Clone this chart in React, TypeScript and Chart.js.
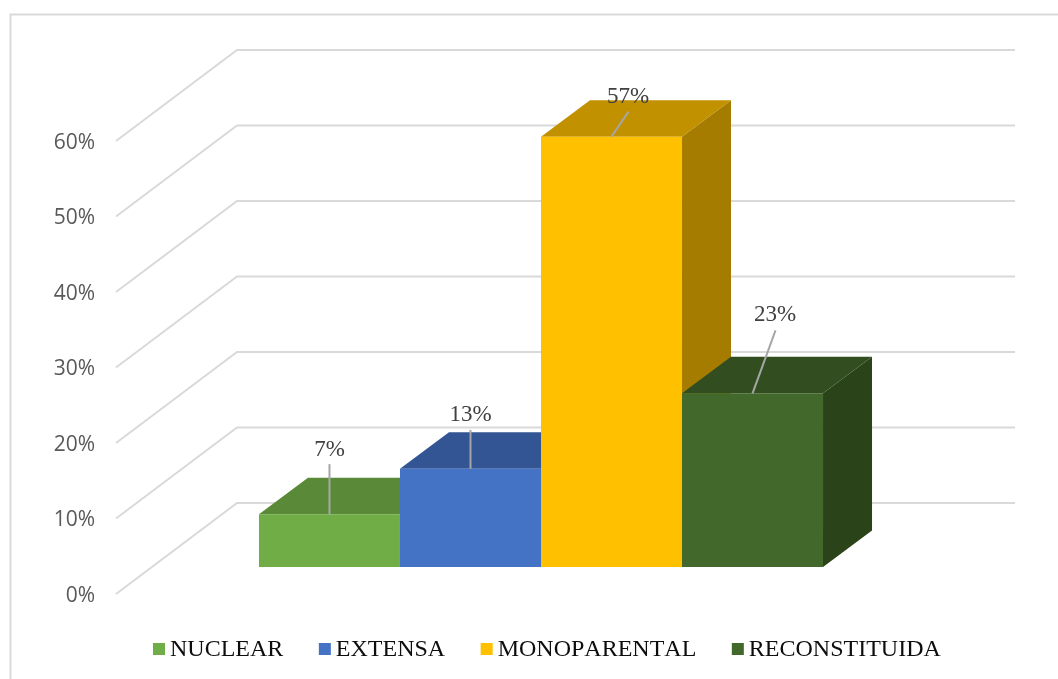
import React, { useEffect, useRef } from "react";
import { Chart, registerables } from "chart.js";

Chart.register(...registerables);

const categories = ["FAMILIA"];
const seriesNames = ["NUCLEAR", "EXTENSA", "MONOPARENTAL", "RECONSTITUIDA"];
const seriesValues = [7, 13, 57, 23];
const frontColors = ["#70AD47", "#4472C4", "#FFC000", "#43682B"];
const topColors = ["#5A8A38", "#335593", "#C19100", "#324E20"];
const sideColors = ["#4C7531", "#2C4A80", "#A67C00", "#2B4319"];
const leaderEnds = [
  [0, -50],
  [0, -39],
  [17, -25],
  [23, -63],
];
const labelShifts = [
  [0, -58],
  [0, -48],
  [16.5, -34],
  [22.5, -72],
];

const BAR_DEPTH = { x: 49, y: -36.5 };
const WALL_DEPTH = { x: 85, y: -64 };
const FLOOR_FRONT = { x: -36, y: 27 };
const GRID_COLOR = "#D9D9D9";
const SERIF = '"Liberation Serif"';

const chart3d = {
  id: "chart3d",
  beforeDatasetsDraw(chart: any) {
    const { ctx, chartArea, scales } = chart;
    const y = scales.y;
    ctx.save();
    // Chart frame: only its top and left edges fall inside the picture
    ctx.strokeStyle = GRID_COLOR;
    ctx.lineWidth = 2;
    ctx.strokeRect(10.5, 14.5, 1100, 700);
    // Wall + floor gridlines
    ctx.lineWidth = 2;
    y.ticks.forEach((t: any) => {
      const py = y.getPixelForValue(t.value);
      ctx.beginPath();
      ctx.moveTo(chartArea.left + FLOOR_FRONT.x, py + FLOOR_FRONT.y);
      ctx.lineTo(chartArea.left + WALL_DEPTH.x, py + WALL_DEPTH.y);
      ctx.lineTo(chartArea.right + WALL_DEPTH.x, py + WALL_DEPTH.y);
      ctx.stroke();
    });
    // Top and side faces, left to right
    chart.data.datasets.forEach((_: any, i: number) => {
      const el = chart.getDatasetMeta(i).data[0];
      const l = el.x - el.width / 2;
      const r = el.x + el.width / 2;
      const t = el.y;
      const b = el.base;
      ctx.fillStyle = sideColors[i];
      ctx.beginPath();
      ctx.moveTo(r, t);
      ctx.lineTo(r + BAR_DEPTH.x, t + BAR_DEPTH.y);
      ctx.lineTo(r + BAR_DEPTH.x, b + BAR_DEPTH.y);
      ctx.lineTo(r, b);
      ctx.closePath();
      ctx.fill();
      ctx.fillStyle = topColors[i];
      ctx.beginPath();
      ctx.moveTo(l, t);
      ctx.lineTo(l + BAR_DEPTH.x, t + BAR_DEPTH.y);
      ctx.lineTo(r + BAR_DEPTH.x, t + BAR_DEPTH.y);
      ctx.lineTo(r, t);
      ctx.closePath();
      ctx.fill();
    });
    ctx.restore();
  },
  afterDatasetsDraw(chart: any) {
    const { ctx } = chart;
    ctx.save();
    ctx.fontKerning = "none";
    chart.data.datasets.forEach((ds: any, i: number) => {
      const el = chart.getDatasetMeta(i).data[0];
      ctx.strokeStyle = "#A6A6A6";
      ctx.lineWidth = 2;
      ctx.beginPath();
      ctx.moveTo(el.x, el.y);
      ctx.lineTo(el.x + leaderEnds[i][0], el.y + leaderEnds[i][1]);
      ctx.stroke();
      ctx.fillStyle = "#404040";
      ctx.font = `23px ${SERIF}`;
      ctx.textAlign = "center";
      ctx.textBaseline = "alphabetic";
      ctx.fillText(`${ds.data[0]}%`, el.x + labelShifts[i][0], el.y + labelShifts[i][1]);
    });
    // Legend
    let x = 153;
    const boxTop = 643;
    const baseline = 656;
    ctx.font = `24px ${SERIF}`;
    ctx.textAlign = "left";
    ctx.textBaseline = "alphabetic";
    chart.data.datasets.forEach((ds: any) => {
      ctx.fillStyle = ds.backgroundColor;
      ctx.fillRect(x, boxTop, 12, 12);
      ctx.fillStyle = "#0D0D0D";
      ctx.fillText(ds.label, x + 17, baseline);
      x += 17 + ctx.measureText(ds.label).width + 35.5;
    });
    ctx.restore();
  },
};

export default function App() {
  const ref = useRef<HTMLCanvasElement>(null);
  useEffect(() => {
    const chart = new Chart(ref.current as HTMLCanvasElement, {
      type: "bar",
      data: {
        labels: categories,
        datasets: seriesNames.map((name, i) => ({
          label: name,
          data: [seriesValues[i]],
          backgroundColor: frontColors[i],
          borderWidth: 0,
          categoryPercentage: 0.725,
          barPercentage: 1,
        })),
      },
      options: {
        responsive: false,
        animation: false,
        layout: { padding: { top: 114, bottom: 112, left: 0, right: 128 } },
        plugins: { legend: { display: false }, tooltip: { enabled: false } },
        scales: {
          x: { display: false },
          y: {
            min: 0,
            max: 60,
            afterFit(scale: any) {
              scale.width = 152;
            },
            border: { display: false },
            grid: { display: false, drawTicks: false },
            ticks: {
              stepSize: 10,
              padding: 57,
              labelOffset: 29,
              color: "#595959",
              font: { family: '"Open Sans"', size: 21 },
              callback: (v: any) => `${v}%`,
            },
          },
        },
      },
      plugins: [chart3d],
    } as any);
    return () => chart.destroy();
  }, []);
  return (
    <div style={{ position: "absolute", left: 0, top: 0, width: 1058, height: 679, background: "#fff" }}>
      <canvas ref={ref} width={1058} height={679} style={{ display: "block" }} />
    </div>
  );
}
